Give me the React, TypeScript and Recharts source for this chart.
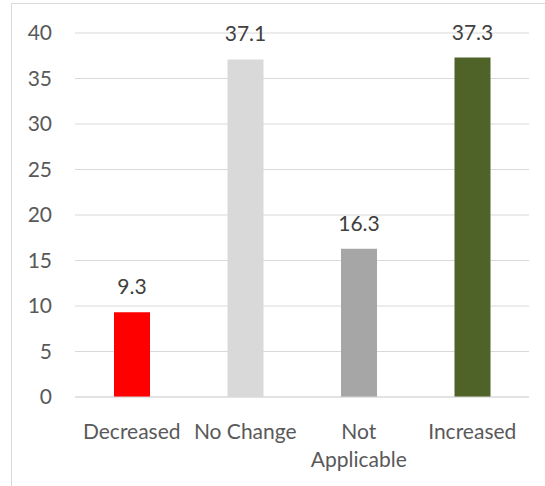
import { BarChart, Bar, XAxis, YAxis, CartesianGrid, Cell, LabelList } from 'recharts';

// Values
const categories = ['Decreased', 'No Change', 'Not Applicable', 'Increased'];
const percentages = [9.3, 37.1, 16.3, 37.3];
const barColors = ['#FF0000', '#D9D9D9', '#A6A6A6', '#4F6228'];
const tickLines = [['Decreased'], ['No Change'], ['Not', 'Applicable'], ['Increased']];
const yTicks = [0, 5, 10, 15, 20, 25, 30, 35, 40];

const data = categories.map((name, i) => ({ name, value: percentages[i] }));

const FONT = 'Lato, "Open Sans", sans-serif';
const TEXT = '#595959';

const CategoryTick = (props: any) => {
  const { x, y, index } = props;
  const lines = tickLines[index] || [props.payload.value];
  return (
    <text x={x} y={y} textAnchor="middle" fill={TEXT} fontSize={21} fontFamily={FONT}>
      {lines.map((line: string, i: number) => (
        <tspan key={i} x={x} dy={i === 0 ? 42 : 28}>
          {line}
        </tspan>
      ))}
    </text>
  );
};

export default function App() {
  return (
    <div style={{ position: 'absolute', left: 0, top: 0, width: 545, height: 486, background: '#fff', overflow: 'hidden' }}>
      <div
        style={{
          position: 'absolute',
          left: 11,
          top: 3,
          width: 600,
          height: 600,
          border: '1px solid #D9D9D9',
        }}
      />
      <div style={{ position: 'absolute', left: 0, top: 0 }}>
        <BarChart width={545} height={486} data={data} margin={{ top: 33, right: 16, left: 0, bottom: 0 }}>
          <CartesianGrid vertical={false} stroke="#D9D9D9" strokeWidth={1} />
          <XAxis
            dataKey="name"
            height={89}
            tickLine={false}
            axisLine={{ stroke: '#D9D9D9' }}
            tickSize={0}
            tickMargin={0}
            interval={0}
            tick={<CategoryTick />}
          />
          <YAxis
            width={75}
            domain={[0, 40]}
            ticks={yTicks}
            tickLine={false}
            axisLine={false}
            tickSize={6}
            tickMargin={17}
            tick={{ fill: TEXT, fontSize: 21, fontFamily: FONT }}
          />
          <Bar dataKey="value" barSize={36} isAnimationActive={false}>
            {data.map((d, i) => (
              <Cell key={d.name} fill={barColors[i]} />
            ))}
            <LabelList
              dataKey="value"
              position="top"
              offset={18}
              fill="#404040"
              fontSize={21}
              fontFamily={FONT}
            />
          </Bar>
        </BarChart>
      </div>
    </div>
  );
}
